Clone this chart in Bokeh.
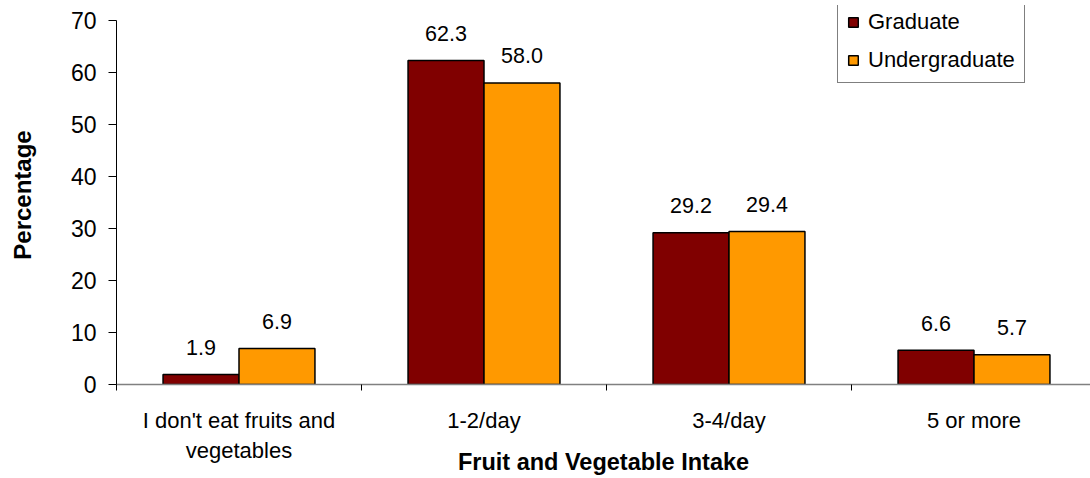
from bokeh.plotting import figure
from bokeh.models import Range1d, FixedTicker, Legend, LegendItem, ColumnDataSource
from bokeh.embed import file_html
from bokeh.resources import INLINE
from bokeh.core.properties import value

categories = ["I don't eat fruits and\nvegetables", "1-2/day", "3-4/day", "5 or more"]
graduate = [1.9, 62.3, 29.2, 6.6]
undergraduate = [6.9, 58.0, 29.4, 5.7]
y_ticks = [0, 10, 20, 30, 40, 50, 60, 70]
series_names = ["Graduate", "Undergraduate"]
x_title = "Fruit and Vegetable Intake"
y_title = "Percentage"

FONT = "Liberation Sans"
MAROON = "#800000"
ORANGE = "#FF9900"

n = len(categories)
centers = [i + 0.5 for i in range(n)]
bw = 0.31
off = 0.155

src = ColumnDataSource(dict(
    xg=[c - off for c in centers],
    xu=[c + off for c in centers],
    g=graduate,
    u=undergraduate,
    gl=[f"{v:.1f}" for v in graduate],
    ul=[f"{v:.1f}" for v in undergraduate],
))

# frame spans a little above 70 so the legend fits; the axis itself stops at 70
p = figure(width=1090, height=478, x_range=Range1d(0, 3.9755), y_range=Range1d(0, 72.88),
           output_backend="svg", toolbar_location=None,
           min_border_left=116, min_border_right=0, min_border_top=5, min_border_bottom=93)
p.outline_line_color = None
p.xgrid.visible = False
p.ygrid.visible = False
p.background_fill_color = "white"
p.border_fill_color = "white"

rg = p.vbar(x="xg", top="g", width=bw, bottom=0, source=src, fill_color=MAROON,
            line_color="black", line_width=1.5)
ru = p.vbar(x="xu", top="u", width=bw, bottom=0, source=src, fill_color=ORANGE,
            line_color="black", line_width=1.5)

for xcol, ycol, tcol in (("xg", "g", "gl"), ("xu", "u", "ul")):
    p.text(x=xcol, y=ycol, text=tcol, source=src, text_align="center",
           text_baseline="alphabetic", y_offset=-27, text_font=value(FONT),
           text_font_size="21.5px", text_color="black")

# x axis
xa = p.xaxis[0]
xa.ticker = FixedTicker(ticks=centers, minor_ticks=list(range(n)))
xa.major_label_overrides = {c: lab for c, lab in zip(centers, categories)}
xa.major_tick_out = 0
xa.major_tick_in = 0
xa.minor_tick_out = 6
xa.minor_tick_in = 0
xa.minor_tick_line_color = "black"
xa.axis_line_color = "#808080"
xa.axis_line_width = 1.5
xa.major_label_text_font = FONT
xa.major_label_text_font_size = "22px"
xa.major_label_text_color = "black"
xa.major_label_text_line_height = 1.22
xa.major_label_standoff = 17
xa.axis_label = x_title
xa.axis_label_text_font = FONT
xa.axis_label_text_font_style = "bold"
xa.axis_label_text_font_size = "23.5px"
xa.axis_label_text_color = "black"
xa.axis_label_standoff = -17

# y axis
ya = p.yaxis[0]
ya.ticker = FixedTicker(ticks=y_ticks)
ya.bounds = (0, 70)
ya.minor_tick_line_color = None
ya.major_tick_out = 8
ya.major_tick_in = 0
ya.axis_line_color = "black"
ya.major_tick_line_color = "black"
ya.major_label_text_font = FONT
ya.major_label_text_font_size = "23px"
ya.major_label_text_color = "black"
ya.major_label_standoff = 12
ya.axis_label = y_title
ya.axis_label_text_font = FONT
ya.axis_label_text_font_style = "bold"
ya.axis_label_text_font_size = "24px"
ya.axis_label_text_color = "black"
ya.axis_label_standoff = 32

legend = Legend(items=[LegendItem(label=series_names[0], renderers=[rg]),
                       LegendItem(label=series_names[1], renderers=[ru])],
                location=(721, 301), orientation="vertical",
                border_line_color="black", border_line_width=1,
                background_fill_color="white", background_fill_alpha=1,
                padding=9, spacing=12, margin=0,
                glyph_width=12, glyph_height=12, label_standoff=9,
                label_text_font=FONT, label_text_font_size="22px", label_height=22,
                label_text_color="black")
p.add_layout(legend, "center")

open("out.html", "w").write(file_html(p, INLINE))
